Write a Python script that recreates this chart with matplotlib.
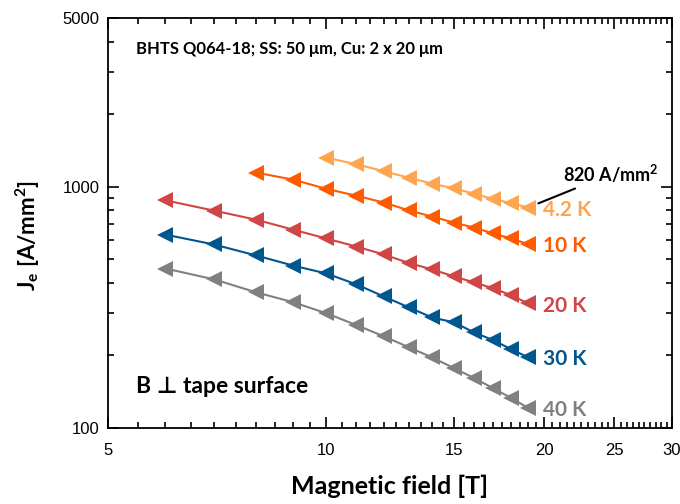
import numpy as np
import matplotlib
matplotlib.use("Agg")
import matplotlib.pyplot as plt
from matplotlib.ticker import FixedLocator, FixedFormatter, NullFormatter

# magnetic field [T] and engineering current density [A/mm^2]
field_6 = [6, 7, 8, 9, 10, 11, 12, 13, 14, 15, 16, 17, 18, 19]
field_8 = [8, 9, 10, 11, 12, 13, 14, 15, 16, 17, 18, 19]
field_10 = [10, 11, 12, 13, 14, 15, 16, 17, 18, 19]

je_4k = [1320, 1240, 1160, 1090, 1030, 985, 935, 890, 855, 820]
je_10k = [1145, 1070, 980, 918, 860, 798, 752, 710, 677, 640, 610, 578]
je_20k = [878, 796, 730, 664, 610, 565, 524, 483, 454, 425, 401, 379, 355, 328]
je_30k = [633, 576, 519, 471, 437, 394, 351, 316, 287, 274, 249, 231, 212, 196]
je_40k = [458, 413, 365, 332, 299, 267, 240, 216, 196, 177, 161, 146, 133, 121]

temps = ["4.2 K", "10 K", "20 K", "30 K", "40 K"]
colors = ["#FFA550", "#FF5A00", "#D04545", "#00568F", "#808080"]

x_ticks = [5, 10, 15, 20, 25, 30]
y_ticks = [100, 1000, 5000]

label_font = ["Lato", "DejaVu Sans"]

fig = plt.figure(figsize=(6.8, 5.04), dpi=100)
ax = fig.add_axes([0.159, 0.151, 0.829, 0.813])

series = [(field_10, je_4k), (field_8, je_10k), (field_6, je_20k),
          (field_6, je_30k), (field_6, je_40k)]
for (b, je), c, t in zip(series, colors, temps):
    ax.plot(b, je, color=c, lw=1.5, marker="<", ms=11, mew=0)
    # label to the right of the last point
    ax.annotate(t, (b[-1], je[-1]), xytext=(11, -1.5), textcoords="offset points",
                color=c, fontsize=15, fontweight="bold", family=label_font,
                va="center", ha="left")

ax.set_xscale("log")
ax.set_yscale("log")
ax.set_xlim(5, 30)
ax.set_ylim(100, 5000)

ax.xaxis.set_major_locator(FixedLocator(x_ticks))
ax.xaxis.set_major_formatter(FixedFormatter([str(v) for v in x_ticks]))
minors = [v for v in np.arange(5, 30, 0.5) if v not in x_ticks]
ax.xaxis.set_minor_locator(FixedLocator(minors))
ax.xaxis.set_minor_formatter(NullFormatter())

ax.yaxis.set_major_locator(FixedLocator(y_ticks))
ax.yaxis.set_major_formatter(FixedFormatter([str(v) for v in y_ticks]))
ymin = [v * d for d in (100, 1000) for v in range(2, 10) if v * d < 5000]
ax.yaxis.set_minor_locator(FixedLocator(ymin))
ax.yaxis.set_minor_formatter(NullFormatter())

ax.tick_params(which="both", direction="in", top=True, right=True, width=1.2)
ax.tick_params(which="major", length=8, labelsize=12, pad=6)
ax.tick_params(axis="x", which="major", pad=11)
ax.tick_params(which="minor", length=4)
for lab in ax.get_xticklabels() + ax.get_yticklabels():
    lab.set_family("Liberation Sans")
for s in ax.spines.values():
    s.set_linewidth(1.3)

ax.set_xlabel("Magnetic field [T]", fontsize=18, fontweight="bold",
              family=label_font, labelpad=12)
ax.set_ylabel(r"J$_\mathregular{e}$ [A/mm$^\mathregular{2}$]", fontsize=16,
              fontweight="bold", family=label_font)
ax.yaxis.set_label_coords(-0.117, 0.47)

ax.text(0.05, 0.925, "BHTS Q064-18; SS: 50 \u03bcm, Cu: 2 x 20 \u03bcm",
        transform=ax.transAxes, fontsize=12, fontweight="bold",
        family=label_font, va="center")
ax.text(0.05, 0.10, "B \u22a5 tape surface", transform=ax.transAxes,
        fontsize=16.5, fontweight="bold", family=label_font, va="center")

# callout for the 4.2 K value at 19 T
ax.annotate("820 A/mm$^\\mathregular{2}$", xy=(19, 820), xytext=(25, 24),
            textcoords="offset points", fontsize=13, fontweight="bold",
            family=label_font, va="center", ha="left",
            arrowprops=dict(arrowstyle="-", color="black", lw=1.5,
                            shrinkA=1, shrinkB=8))

fig.savefig("out.png", dpi=100)
